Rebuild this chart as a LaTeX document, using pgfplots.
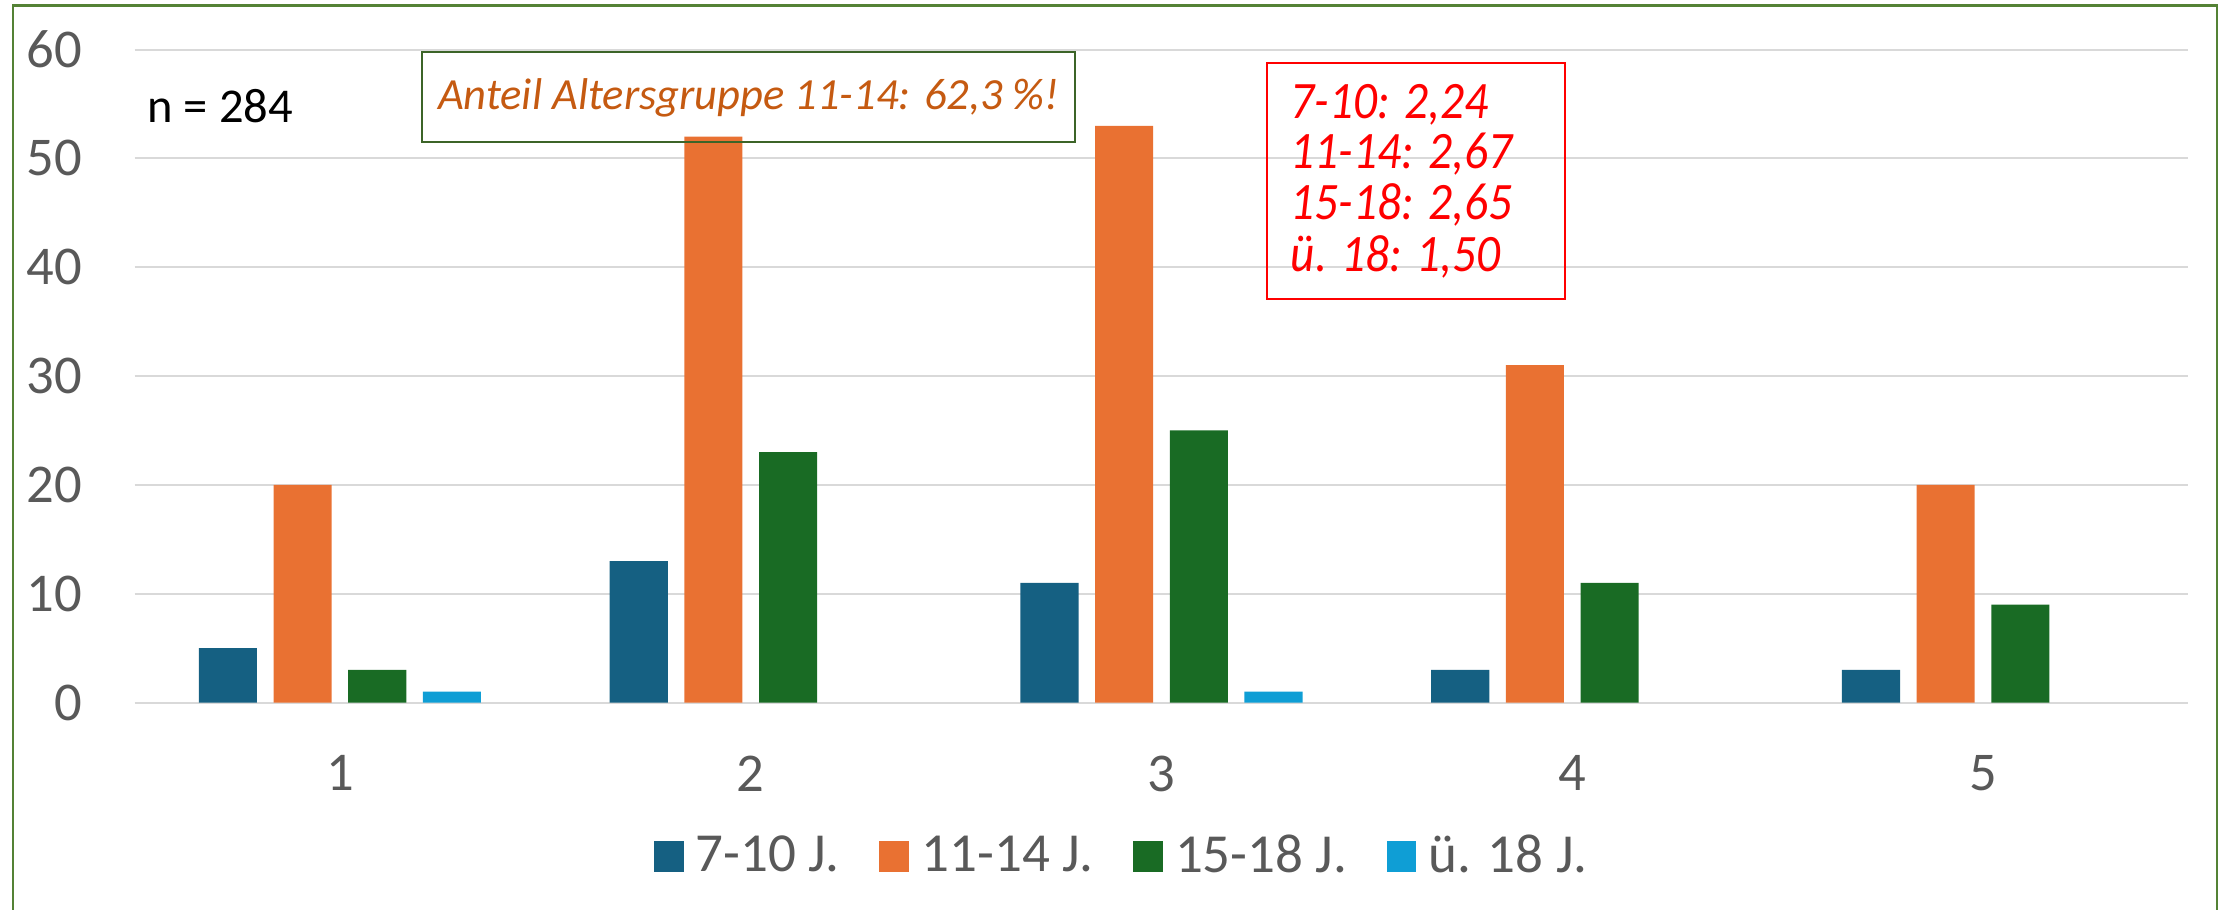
\documentclass[border=0pt]{standalone}
\usepackage{fontspec}
\setmainfont{Carlito}
\usepackage{pgfplots}
\pgfplotsset{compat=1.18}

\definecolor{c1}{RGB}{21,96,130}
\definecolor{c2}{RGB}{233,113,50}
\definecolor{c3}{RGB}{25,107,36}
\definecolor{c4}{RGB}{15,158,213}
\definecolor{gridc}{RGB}{217,217,217}
\definecolor{ticktext}{RGB}{89,89,89}
\definecolor{annot}{RGB}{197,90,17}
\definecolor{framec}{RGB}{84,130,53}
\definecolor{boxgreen}{RGB}{60,100,40}

\begin{document}
\begin{tikzpicture}[x=0.35pt,y=0.35pt]
\path[use as bounding box] (0,0) rectangle (1568,642.4);
\coordinate (O) at (95,146.4);
\begin{axis}[
  at={(O)}, anchor=south west, scale only axis,
  width=507.5pt, height=161.35pt,
  xmin=0.5, xmax=5.5, ymin=0, ymax=60,
  ybar=4.1pt, bar width=14.35pt,
  xtick={1,2,3,4,5}, ytick={0,10,...,60},
  axis line style={draw=none}, major tick length=0pt,
  ymajorgrids, grid style={draw=gridc, line width=0.5pt},
  tick label style={font=\fontsize{13.5}{16}\selectfont, text=ticktext},
  /pgf/number format/assume math mode=true,
  xticklabel style={inner sep=0pt, yshift=-12.9pt},
  yticklabel style={inner sep=0pt, xshift=-12.7pt},
  legend columns=4,
  legend style={at={(0.482,-0.2364)}, anchor=center, draw=none, fill=none,
    font=\fontsize{13.6}{16}\selectfont, text=ticktext,
    /tikz/every odd column/.append style={column sep=1pt},
    /tikz/every even column/.append style={column sep=7.8pt}},
  legend image code/.code={\fill[#1] (0pt,-3.85pt) rectangle (7.4pt,3.85pt);},
]
\addplot[fill=c1, draw=none] coordinates {(1,5) (2,13) (3,11) (4,3) (5,3)};
\addplot[fill=c2, draw=none] coordinates {(1,20) (2,52) (3,53) (4,31) (5,20)};
\addplot[fill=c3, draw=none] coordinates {(1,3) (2,23) (3,25) (4,11) (5,9)};
\addplot[fill=c4, draw=none] coordinates {(1,1) (3,1)};
\legend{7-10 J., 11-14 J., 15-18 J., ü. 18 J.}
\end{axis}
% chart frame
\draw[framec, line width=0.6pt] (9,-10) -- (9,638.4) -- (1565,638.4) -- (1565,-10);
% annotations
\node[anchor=west, inner sep=0pt, font=\fontsize{12}{14}\selectfont] at (103.5,567.4) {n = 284};
\draw[boxgreen, line width=0.5pt] (298,605.4) rectangle (759,542.4);
\node[inner sep=0pt, text=annot, font=\itshape\fontsize{11}{13}\selectfont] at (528.5,573.4) {Anteil Altersgruppe 11-14: 62,3 \%!};
\draw[red, line width=0.5pt] (894.5,597.8) rectangle (1105,431.4);
\begin{scope}[every node/.style={anchor=base west, inner sep=0pt, text=red, font=\itshape\fontsize{13}{15}\selectfont}]
\node at (910.7,559) {\scalebox{0.9}[1]{7-10: 2,24}};
\node at (910.7,523.7) {\scalebox{0.9}[1]{11-14: 2,67}};
\node at (910.7,487.1) {\scalebox{0.9}[1]{15-18: 2,65}};
\node at (910.7,450.5) {\scalebox{0.9}[1]{ü. 18: 1,50}};
\end{scope}
\end{tikzpicture}
\end{document}
